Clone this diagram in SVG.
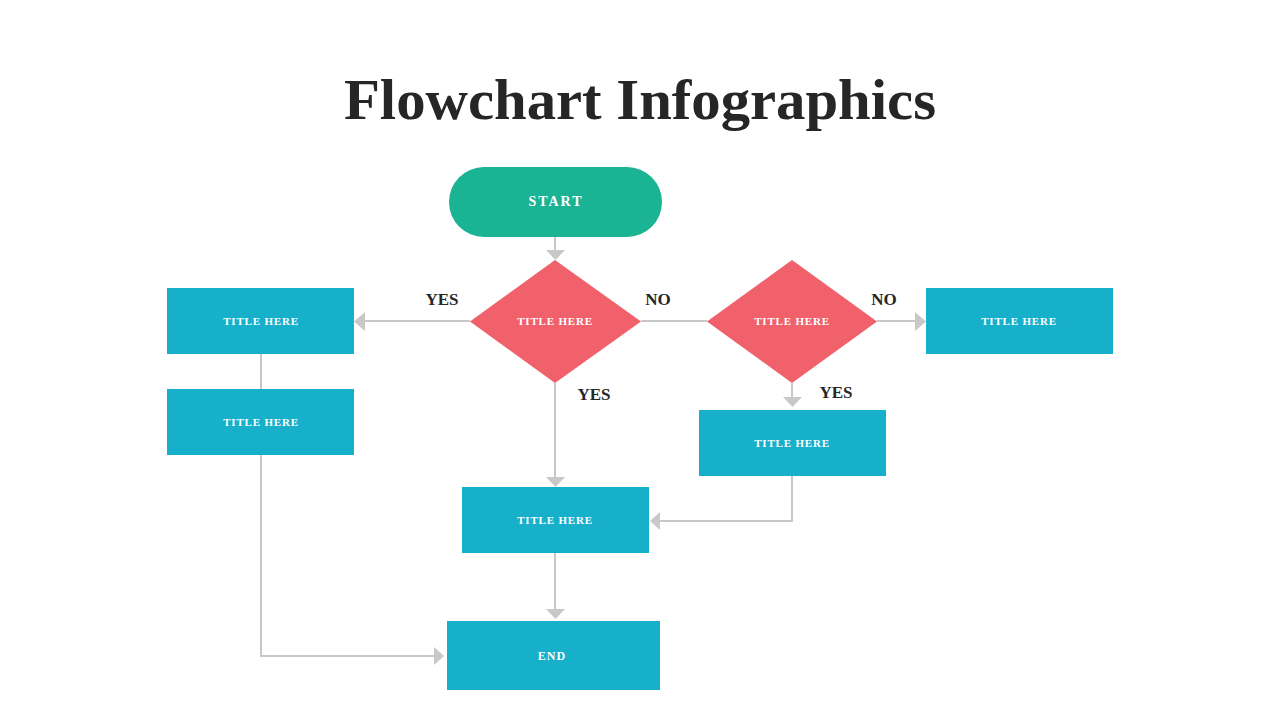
<svg xmlns="http://www.w3.org/2000/svg" width="1280" height="720" viewBox="0 0 1280 720">
<style>
.box{fill:#16B0CB}
.dia{fill:#F0616B}
.lbl{font-family:"Liberation Serif",serif;font-weight:bold;fill:#FFFFFF;text-anchor:middle}
.t{font-size:11px;letter-spacing:0.8px}
.yn{font-family:"Liberation Serif",serif;font-weight:bold;font-size:17px;fill:#262626;text-anchor:middle}
.ln{fill:none;stroke:#C8C8C8;stroke-width:2}
.ah{fill:#C8C8C8}
</style>
<rect width="1280" height="720" fill="#FFFFFF"/>
<text x="640" y="119" font-family="Liberation Serif, serif" font-weight="bold" font-size="56" fill="#262626" text-anchor="middle" textLength="592" lengthAdjust="spacingAndGlyphs">Flowchart Infographics</text>
<g id="connectors">
<path class="ln" d="M555 237V250"/>
<polygon class="ah" points="546,250 565,250 555.5,260"/>
<path class="ln" d="M470 321H365"/>
<polygon class="ah" points="365,312 365,331 354,321.5"/>
<path class="ln" d="M641 321H707"/>
<path class="ln" d="M877 321H915"/>
<polygon class="ah" points="915,312 915,331 926,321.5"/>
<path class="ln" d="M792 383V397"/>
<polygon class="ah" points="783,397 802,397 792.5,407"/>
<path class="ln" d="M555 383V477"/>
<polygon class="ah" points="546,477 565,477 555.5,487"/>
<path class="ln" d="M792 476V521H660"/>
<polygon class="ah" points="660,512 660,530 650,521"/>
<path class="ln" d="M261 354V389"/>
<path class="ln" d="M261 455V656H434"/>
<polygon class="ah" points="434,647 434,665 444,656"/>
<path class="ln" d="M555 553V609"/>
<polygon class="ah" points="546,609 565,609 555.5,619"/>
</g>
<g id="start">
<rect x="449" y="167" width="213" height="70" rx="35" fill="#1AB393"/>
<text class="lbl" x="556" y="206" font-size="14" letter-spacing="2">START</text>
</g>
<g id="decision1">
<polygon class="dia" points="555,260 641,321.5 555,383 470,321.5"/>
<text class="lbl t" x="555" y="325">TITLE HERE</text>
</g>
<g id="decision2">
<polygon class="dia" points="792,260 877,321.5 792,383 707,321.5"/>
<text class="lbl t" x="792" y="325">TITLE HERE</text>
</g>
<g id="box-left1">
<rect class="box" x="167" y="288" width="187" height="66"/>
<text class="lbl t" x="261" y="325">TITLE HERE</text>
</g>
<g id="box-left2">
<rect class="box" x="167" y="389" width="187" height="66"/>
<text class="lbl t" x="261" y="426">TITLE HERE</text>
</g>
<g id="box-right">
<rect class="box" x="926" y="288" width="187" height="66"/>
<text class="lbl t" x="1019" y="325">TITLE HERE</text>
</g>
<g id="box-yes2">
<rect class="box" x="699" y="410" width="187" height="66"/>
<text class="lbl t" x="792" y="447">TITLE HERE</text>
</g>
<g id="box-middle">
<rect class="box" x="462" y="487" width="187" height="66"/>
<text class="lbl t" x="555" y="524">TITLE HERE</text>
</g>
<g id="end">
<rect class="box" x="447" y="621" width="213" height="69"/>
<text class="lbl" x="552" y="660" font-size="12" letter-spacing="1">END</text>
</g>
<g id="labels">
<text class="yn" x="442" y="305">YES</text>
<text class="yn" x="658" y="305">NO</text>
<text class="yn" x="594" y="400">YES</text>
<text class="yn" x="884" y="305">NO</text>
<text class="yn" x="836" y="398">YES</text>
</g>
</svg>
